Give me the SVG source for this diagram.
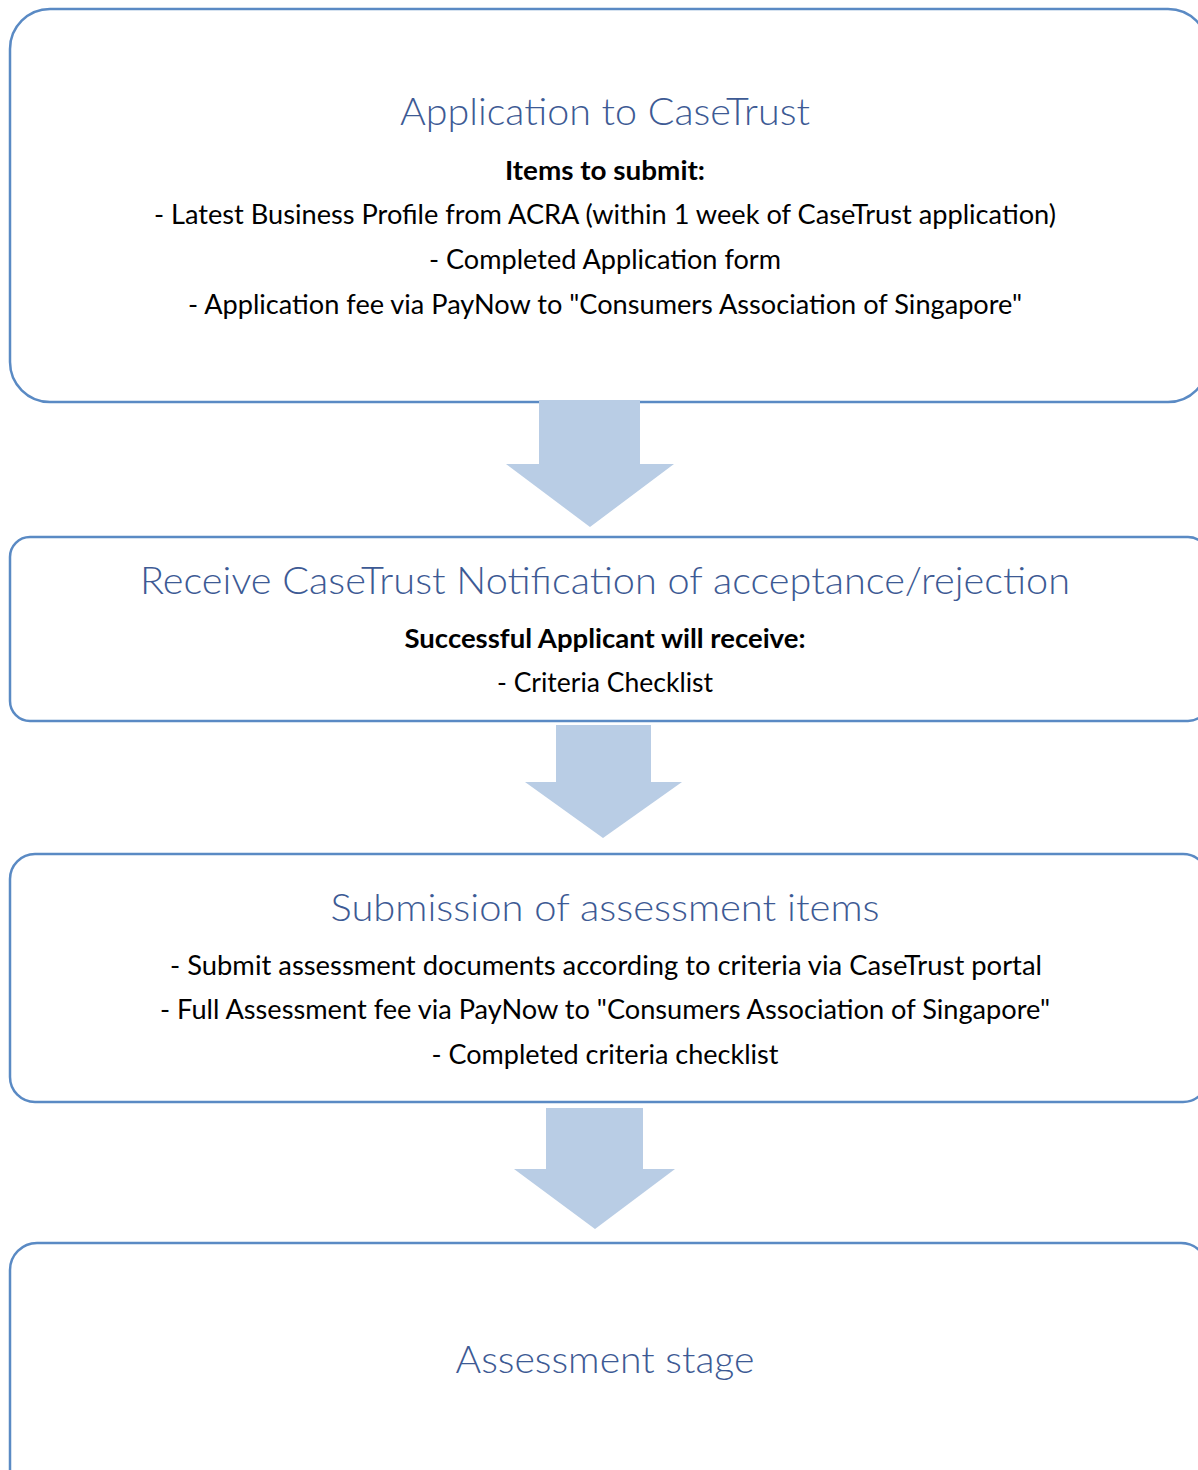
<svg xmlns="http://www.w3.org/2000/svg" width="1198" height="1470" viewBox="0 0 1198 1470">
<style>
.box{fill:#ffffff;stroke:#5A8AC4;stroke-width:2.5}
.arrow{fill:#B9CDE5;stroke:none}
.title{font-family:Lato,"Open Sans","Liberation Sans",sans-serif;font-weight:300;font-size:38px;fill:#3D5A94;text-anchor:middle}
.body{font-family:Lato,"Open Sans","Liberation Sans",sans-serif;font-size:26px;fill:#000000;text-anchor:middle}
.bold{font-weight:bold}
</style>
<rect width="1198" height="1470" fill="#ffffff"/>
<g id="node1">
<rect class="box" x="10" y="9" width="1198" height="393" rx="40" ry="40"/>
<text class="title" x="605" y="125" textLength="410" lengthAdjust="spacingAndGlyphs">Application to CaseTrust</text>
<text class="body bold" x="605" y="180" textLength="200" lengthAdjust="spacingAndGlyphs">Items to submit:</text>
<text class="body" x="605" y="224" textLength="902" lengthAdjust="spacingAndGlyphs">- Latest Business Profile from ACRA (within 1 week of CaseTrust application)</text>
<text class="body" x="605" y="269" textLength="352" lengthAdjust="spacingAndGlyphs">- Completed Application form</text>
<text class="body" x="605" y="314" textLength="834" lengthAdjust="spacingAndGlyphs">- Application fee via PayNow to "Consumers Association of Singapore"</text>
</g>
<g id="node2">
<rect class="box" x="10" y="537" width="1198" height="184" rx="20" ry="20"/>
<text class="title" x="605" y="594" textLength="930" lengthAdjust="spacingAndGlyphs">Receive CaseTrust Notification of acceptance/rejection</text>
<text class="body bold" x="605" y="648" textLength="401" lengthAdjust="spacingAndGlyphs">Successful Applicant will receive:</text>
<text class="body" x="605" y="692" textLength="216" lengthAdjust="spacingAndGlyphs">- Criteria Checklist</text>
</g>
<g id="node3">
<rect class="box" x="10" y="854" width="1198" height="248" rx="25" ry="25"/>
<text class="title" x="605" y="921" textLength="549" lengthAdjust="spacingAndGlyphs">Submission of assessment items</text>
<text class="body" x="606" y="975" textLength="872" lengthAdjust="spacingAndGlyphs">- Submit assessment documents according to criteria via CaseTrust portal</text>
<text class="body" x="605" y="1019" textLength="890" lengthAdjust="spacingAndGlyphs">- Full Assessment fee via PayNow to "Consumers Association of Singapore"</text>
<text class="body" x="605" y="1064" textLength="347" lengthAdjust="spacingAndGlyphs">- Completed criteria checklist</text>
</g>
<g id="node4">
<rect class="box" x="10" y="1243" width="1198" height="270" rx="27" ry="27"/>
<text class="title" x="605" y="1373" textLength="299" lengthAdjust="spacingAndGlyphs">Assessment stage</text>
</g>
<g id="connectors">
<polygon class="arrow" points="539,400 640,400 640,464 674,464 590,527 506,464 539,464"/>
<polygon class="arrow" points="556,725 651,725 651,782 682,782 603,838 525,782 556,782"/>
<polygon class="arrow" points="546,1108 643,1108 643,1169 675,1169 595,1229 514,1169 546,1169"/>
</g>
</svg>
